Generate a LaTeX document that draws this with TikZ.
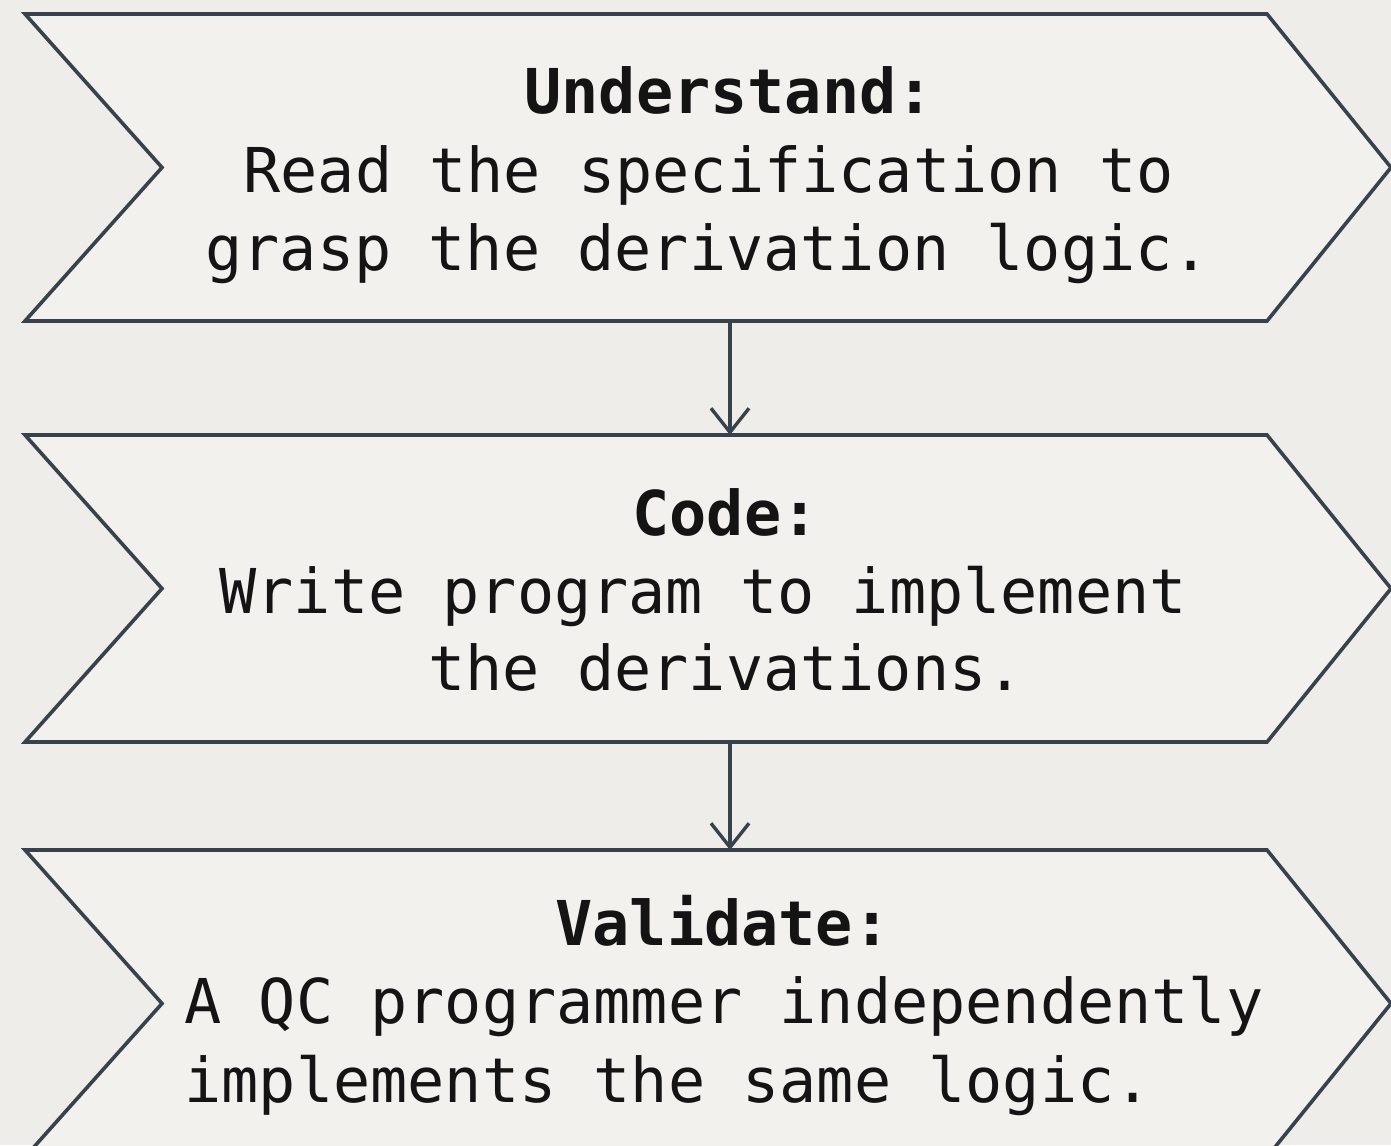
\documentclass[tikz,border=0pt]{standalone}
\usepackage{fontspec}
\setmonofont{DejaVu Sans Mono}
\usetikzlibrary{arrows.meta,calc}
\definecolor{bgcol}{HTML}{EEEDE9}
\definecolor{chevfill}{HTML}{F2F1ED}
\definecolor{linecol}{HTML}{37424D}
\definecolor{txtcol}{HTML}{141414}
\tikzset{
  body/.style={inner sep=0pt, outer sep=0pt, minimum width=621pt, minimum height=153.5pt},
  chev/.style={draw=linecol, fill=chevfill, line width=1.8pt, line join=miter},
  txt/.style={anchor=base west, inner sep=0pt, text=txtcol, font=\ttfamily\fontsize{30.9}{39}\selectfont},
  ttl/.style={txt, font=\ttfamily\bfseries\fontsize{30.9}{39}\selectfont},
  arr/.style={draw=linecol, line width=1.7pt, -{Straight Barb[length=12pt,width=19pt,line width=1.7pt]}}
}
\begin{document}
\begin{tikzpicture}[x=0.5pt,y=-0.5pt]
\useasboundingbox (0,0) rectangle (1391,1145);
\fill[bgcol] (0,0) rectangle (1391,1145);
\begin{scope}
\clip (0,0) rectangle (1391,1145);
% invisible bodies
\node[body] (u) at (646,167.5) {};
\node[body] (c) at (646,588.5) {};
\node[body] (v) at (646,1003.5) {};
\foreach \n in {u,c,v}{
  \path[chev] (\n.north west) -- (\n.north east) -- ($(\n.east)+(124,0)$) -- (\n.south east)
    -- (\n.south west) -- ($(\n.west)+(137,0)$) -- cycle;
}
\end{scope}
% texts
\node[ttl] (u0) at (524,113) {Understand:};
\node[txt] (u1) at (243,192) {Read the specification to};
\node[txt] (u2) at (205,270) {grasp the derivation logic.};
\node[ttl] (c0) at (632,535) {Code:};
\node[txt] (c1) at (219,613) {Write program to implement};
\node[txt] (c2) at (428,690) {the derivations.};
\node[ttl] (v0) at (555,945) {Validate:};
\node[txt] (v1) at (184,1023) {A QC programmer independently};
\node[txt] (v2) at (184,1102) {implements the same logic.};
% connectors
\coordinate (ax) at (730,0);
\draw[arr] (u.south -| ax) -- (c.north -| ax);
\draw[arr] (c.south -| ax) -- (v.north -| ax);
\end{tikzpicture}
\end{document}
